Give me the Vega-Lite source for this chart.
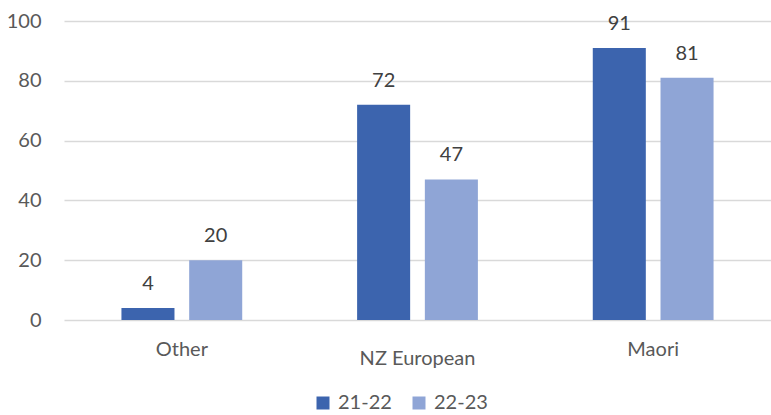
{
  "$schema": "https://vega.github.io/schema/vega-lite/v6.json",
  "width": 707,
  "height": 299,
  "autosize": {"type": "none"},
  "padding": {"left": 64, "top": 21, "right": 0, "bottom": 95},
  "background": "#ffffff",
  "config": {
    "view": {"stroke": null},
    "font": "Lato",
    "axis": {"labelFont": "Lato", "labelColor": "#595959", "labelFontSize": 20}
  },
  "data": {
    "values": [
      {"group": "Other", "year": "21-22", "value": 4},
      {"group": "Other", "year": "22-23", "value": 20},
      {"group": "NZ European", "year": "21-22", "value": 72},
      {"group": "NZ European", "year": "22-23", "value": 47},
      {"group": "Maori", "year": "21-22", "value": 91},
      {"group": "Maori", "year": "22-23", "value": 81}
    ]
  },
  "encoding": {
    "x": {
      "field": "group",
      "type": "nominal",
      "sort": ["Other", "NZ European", "Maori"],
      "scale": {"paddingInner": 0, "paddingOuter": 0},
      "axis": {
        "title": null,
        "labelAngle": 0,
        "domain": false,
        "ticks": false,
        "labelBaseline": "top",
        "labelPadding": {"condition": {"test": "datum.value === 'NZ European'", "value": 28}, "value": 19}
      }
    },
    "xOffset": {
      "field": "year",
      "type": "nominal",
      "scale": {"paddingInner": 0.217, "paddingOuter": 0.848}
    },
    "y": {
      "field": "value",
      "type": "quantitative",
      "scale": {"domain": [0, 100]},
      "axis": {
        "title": null,
        "values": [0, 20, 40, 60, 80, 100],
        "domain": false,
        "ticks": false,
        "labelPadding": 23,
        "gridColor": "#D9D9D9",
        "gridWidth": 1.3
      }
    }
  },
  "layer": [
    {
      "mark": {"type": "bar"},
      "encoding": {
        "color": {
          "field": "year",
          "type": "nominal",
          "scale": {"domain": ["21-22", "22-23"], "range": ["#3C64AE", "#8FA5D6"]},
          "legend": {
            "title": null,
            "orient": "none",
            "direction": "horizontal",
            "legendX": 249,
            "legendY": 372,
            "symbolType": "square",
            "symbolSize": 169,
            "symbolStrokeWidth": 0,
            "labelFont": "Lato",
            "labelFontSize": 20,
            "labelColor": "#595959",
            "labelOffset": 5,
            "columnPadding": 17
          }
        }
      }
    },
    {
      "mark": {"type": "text", "baseline": "alphabetic", "dy": -18, "fontSize": 20, "color": "#404040", "font": "Lato"},
      "encoding": {"text": {"field": "value", "type": "quantitative"}}
    }
  ]
}
